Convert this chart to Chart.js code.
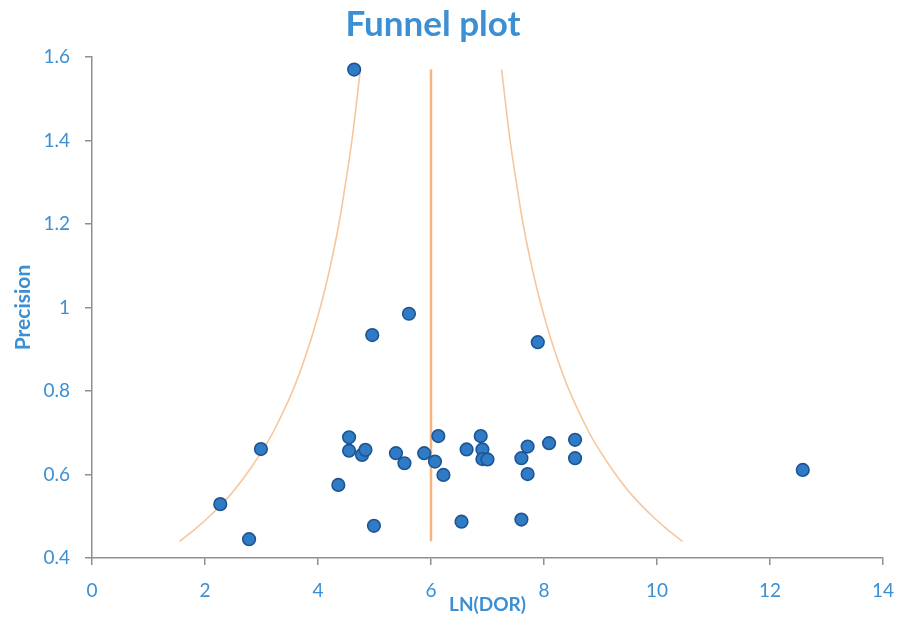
<!DOCTYPE html>
<html>
<head>
<meta charset="utf-8">
<script src="https://cdn.jsdelivr.net/npm/chart.js@4"></script>
<style>
  html, body { margin: 0; padding: 0; background: #ffffff; }
  #wrap { width: 901px; height: 629px; position: relative; }
</style>
</head>
<body>
<div id="wrap"><canvas id="funnel"></canvas></div>
<script>
// Individual studies: log diagnostic odds ratio and precision (1/SE)
const studyLnDOR = [4.64, 5.61, 4.96, 7.89, 2.99, 2.27, 2.78, 12.58,
  4.55, 4.55, 4.78, 4.84, 4.36, 4.99, 5.38, 5.53, 5.88, 6.07, 6.13, 6.22,
  6.54, 6.63, 6.88, 6.91, 6.91, 7.0, 7.6, 7.6, 7.71, 7.71, 8.09, 8.55, 8.55];
const studyPrecision = [1.57, 0.985, 0.934, 0.917, 0.661, 0.529, 0.445, 0.611,
  0.689, 0.657, 0.647, 0.659, 0.575, 0.477, 0.651, 0.627, 0.651, 0.631, 0.692, 0.599,
  0.487, 0.66, 0.692, 0.66, 0.637, 0.636, 0.492, 0.639, 0.667, 0.601, 0.675, 0.683, 0.639];

// Pseudo 95% confidence limits around the pooled estimate
const funnelPrecision = [0.44, 0.47, 0.5, 0.55, 0.6, 0.65, 0.7, 0.8, 0.9, 1.0, 1.1, 1.2, 1.3, 1.4, 1.5, 1.57];
const funnelLower = [1.55, 1.83, 2.08, 2.44, 2.73, 2.98, 3.2, 3.55, 3.82, 4.04, 4.22, 4.37, 4.49, 4.6, 4.69, 4.75];
const funnelUpper = [10.45, 10.17, 9.92, 9.56, 9.27, 9.02, 8.8, 8.45, 8.18, 7.96, 7.78, 7.63, 7.51, 7.4, 7.31, 7.25];

// Pooled estimate line
const pooledLnDOR = 6.0;
const pooledRange = [0.44, 1.57];

// Axis ticks
const xTicks = [0, 2, 4, 6, 8, 10, 12, 14];
const yTicks = [0.4, 0.6, 0.8, 1, 1.2, 1.4, 1.6];
const yTickLabels = ['0.4', '0.6', '0.8', '1', '1.2', '1.4', '1.6'];

const TEXT_BLUE = '#3b8fd2';
const AXIS_GREY = '#8f8f8f';
const FONT = 'Lato, "Open Sans", sans-serif';

const zip = (xs, ys) => xs.map((x, i) => ({ x: x, y: ys[i] }));

const titlePlugin = {
  id: 'plotTitle',
  afterDraw(chart) {
    const ctx = chart.ctx;
    ctx.save();
    ctx.fillStyle = TEXT_BLUE;
    ctx.font = 'bold 35px ' + FONT;
    ctx.textAlign = 'center';
    ctx.textBaseline = 'middle';
    ctx.fillText('Funnel plot', 433, 25);
    ctx.restore();
  }
};

new Chart(document.getElementById('funnel'), {
  type: 'scatter',
  data: {
    datasets: [
      {
        label: 'Studies',
        data: zip(studyLnDOR, studyPrecision),
        pointRadius: 6.3,
        pointBackgroundColor: '#2f7bc6',
        pointBorderColor: '#1d5592',
        pointBorderWidth: 1.6,
        showLine: false,
        order: 0
      },
      {
        label: 'Pooled',
        data: zip([pooledLnDOR, pooledLnDOR], pooledRange),
        showLine: true,
        borderColor: '#f5b37f',
        borderWidth: 2.5,
        pointRadius: 0,
        order: 1
      },
      {
        label: 'Lower limit',
        data: zip(funnelLower, funnelPrecision),
        showLine: true,
        tension: 0.35,
        borderColor: '#f7c69c',
        borderWidth: 1.6,
        pointRadius: 0,
        order: 2
      },
      {
        label: 'Upper limit',
        data: zip(funnelUpper, funnelPrecision),
        showLine: true,
        tension: 0.35,
        borderColor: '#f7c69c',
        borderWidth: 1.6,
        pointRadius: 0,
        order: 2
      }
    ]
  },
  plugins: [titlePlugin],
  options: {
    responsive: true,
    maintainAspectRatio: false,
    animation: false,
    layout: { padding: { left: 0, right: 18, top: 57, bottom: 0 } },
    plugins: {
      legend: { display: false },
      tooltip: { enabled: false },
      title: { display: false }
    },
    scales: {
      x: {
        type: 'linear',
        min: 0,
        max: 14,
        afterBuildTicks(scale) { scale.ticks = xTicks.map(v => ({ value: v })); },
        afterFit(scale) {
          scale.height = 71;
          scale.paddingLeft = 0;
          scale.paddingRight = 0;
        },
        ticks: {
          color: TEXT_BLUE,
          font: { family: FONT, size: 19 },
          padding: 14,
          maxRotation: 0
        },
        grid: { drawOnChartArea: false, drawTicks: true, tickLength: 7, color: AXIS_GREY, lineWidth: 1.5 },
        border: { display: true, color: AXIS_GREY, width: 1.5 },
        title: {
          display: true,
          text: 'LN(DOR)',
          color: TEXT_BLUE,
          font: { family: FONT, size: 19, weight: 'bold' },
          padding: { top: 0, bottom: 13 }
        }
      },
      y: {
        type: 'linear',
        min: 0.4,
        max: 1.6,
        afterBuildTicks(scale) { scale.ticks = yTicks.map(v => ({ value: v })); },
        afterFit(scale) {
          scale.width = 92;
          scale.paddingTop = 0;
          scale.paddingBottom = 0;
        },
        ticks: {
          color: TEXT_BLUE,
          font: { family: FONT, size: 19 },
          padding: 15,
          callback: (v) => yTickLabels[yTicks.findIndex(t => Math.abs(t - v) < 1e-9)]
        },
        grid: { drawOnChartArea: false, drawTicks: true, tickLength: 7, color: AXIS_GREY, lineWidth: 1.5 },
        border: { display: true, color: AXIS_GREY, width: 1.5 },
        title: {
          display: true,
          text: 'Precision',
          color: TEXT_BLUE,
          font: { family: FONT, size: 21, weight: 'bold' },
          padding: { top: 11, bottom: 0 }
        }
      }
    }
  }
});
</script>
</body>
</html>
